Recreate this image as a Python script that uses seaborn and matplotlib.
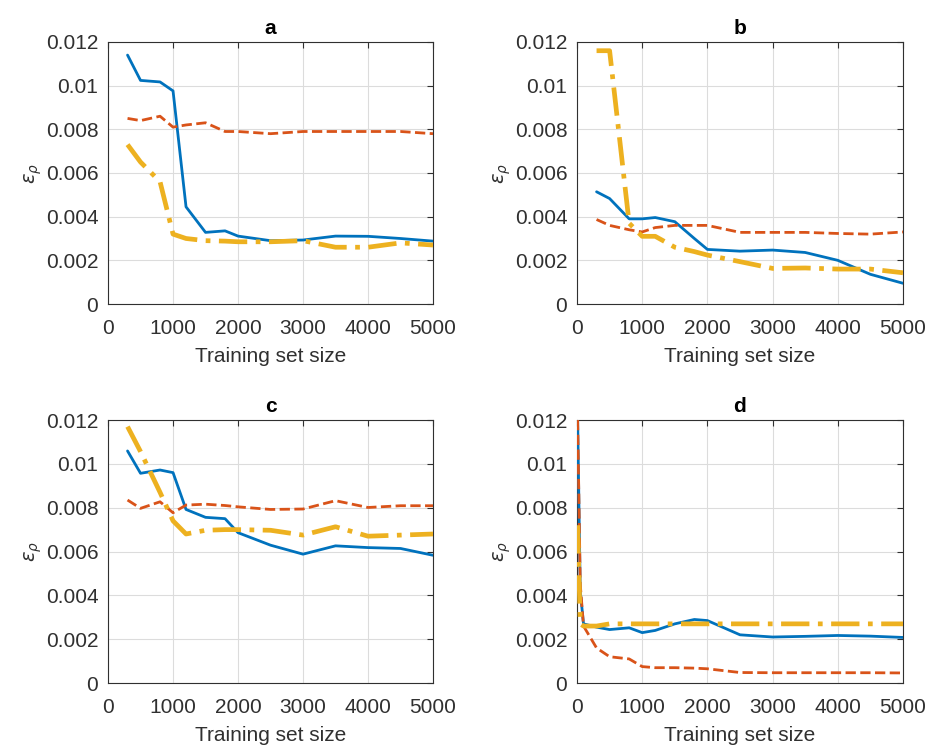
import matplotlib
matplotlib.use("Agg")
import matplotlib.pyplot as plt
import seaborn as sns
import pandas as pd

# ---------------- data ----------------
x_std = [300, 500, 800, 1000, 1200, 1500, 1800, 2000, 2500, 3000, 3500, 4000, 4500, 5000]

a_blue   = [0.0114, 0.01024, 0.01017, 0.00976, 0.00445, 0.00328, 0.00335, 0.00311, 0.0029, 0.00293, 0.00311, 0.0031, 0.0030, 0.00288]
a_orange = [0.0085, 0.0084, 0.0086, 0.0081, 0.0082, 0.0083, 0.0079, 0.0079, 0.0078, 0.0079, 0.0079, 0.0079, 0.0079, 0.0078]
a_yellow = [0.0073, 0.0065, 0.0056, 0.0032, 0.0030, 0.0029, 0.00288, 0.00285, 0.00285, 0.0029, 0.0026, 0.0026, 0.0028, 0.0027]

b_blue   = [0.00514, 0.00483, 0.0039, 0.0039, 0.00396, 0.00377, 0.0030, 0.0025, 0.00242, 0.00247, 0.00236, 0.0020, 0.00136, 0.00095]
b_orange = [0.00387, 0.0036, 0.0034, 0.0033, 0.0035, 0.0036, 0.0036, 0.0036, 0.00328, 0.00328, 0.00328, 0.00323, 0.0032, 0.0033]
b_yellow = [0.0116, 0.0116, 0.0037, 0.0031, 0.0031, 0.0026, 0.0024, 0.00224, 0.00194, 0.00163, 0.00165, 0.0016, 0.0016, 0.00143]

c_blue   = [0.01059, 0.00957, 0.00972, 0.0096, 0.00792, 0.00756, 0.0075, 0.00686, 0.00629, 0.00588, 0.00626, 0.00618, 0.00614, 0.00583]
c_orange = [0.00835, 0.00797, 0.00827, 0.00777, 0.00812, 0.00816, 0.0081, 0.00804, 0.00792, 0.00794, 0.00832, 0.00801, 0.00809, 0.00809]
c_yellow = [0.0117, 0.01056, 0.0087, 0.0074, 0.0068, 0.00697, 0.0070, 0.0070, 0.00697, 0.00675, 0.00713, 0.0067, 0.00675, 0.0068]

x_d = [10, 50, 100, 300, 500, 800, 1000, 1200, 1500, 1800, 2000, 2500, 3000, 3500, 4000, 4500, 5000]
d_blue   = [0.012, 0.0042, 0.0027, 0.00255, 0.00244, 0.00252, 0.0023, 0.0024, 0.0027, 0.0029, 0.00285, 0.0022, 0.0021, 0.00213, 0.00217, 0.00214, 0.00208]
d_orange = [0.012, 0.0045, 0.0026, 0.0016, 0.0012, 0.0011, 0.00075, 0.0007, 0.0007, 0.00068, 0.00065, 0.00048, 0.00047, 0.00047, 0.00047, 0.00047, 0.00046]
d_yellow = [0.0072, 0.0027, 0.0026, 0.0026, 0.0027, 0.0027, 0.0027, 0.0027, 0.0027, 0.0027, 0.0027, 0.0027, 0.0027, 0.0027, 0.0027, 0.0027, 0.0027]

panel_titles = ["a", "b", "c", "d"]
x_ticks = [0, 1000, 2000, 3000, 4000, 5000]
x_ticklabels = ["0", "1000", "2000", "3000", "4000", "5000"]
y_ticks = [0, 0.002, 0.004, 0.006, 0.008, 0.01, 0.012]
y_ticklabels = ["0", "0.002", "0.004", "0.006", "0.008", "0.01", "0.012"]

# ---------------- style ----------------
sns.set_theme(style="white")
plt.rcParams["font.family"] = ["Liberation Sans", "DejaVu Sans"]
plt.rcParams["mathtext.fontset"] = "dejavusans"

BLUE, ORANGE, YELLOW = "#0072BD", "#D95319", "#EDB120"
TXT = "#303030"

fig = plt.figure(figsize=(9.29, 7.51), dpi=100)
positions = [
    [0.1163, 0.5952, 0.3498, 0.3489],
    [0.6211, 0.5952, 0.3509, 0.3489],
    [0.1163, 0.0905, 0.3498, 0.3502],
    [0.6211, 0.0905, 0.3509, 0.3502],
]

panels = [
    (x_std, a_blue, a_orange, a_yellow),
    (x_std, b_blue, b_orange, b_yellow),
    (x_std, c_blue, c_orange, c_yellow),
    (x_d, d_blue, d_orange, d_yellow),
]

for pos, title, (xs, yb, yo, yy) in zip(positions, panel_titles, panels):
    ax = fig.add_axes(pos)
    df = pd.DataFrame({"x": xs, "blue": yb, "orange": yo, "yellow": yy})
    sns.lineplot(data=df, x="x", y="blue", ax=ax, color=BLUE, lw=2.0, sort=False, estimator=None, zorder=3)
    sns.lineplot(data=df, x="x", y="orange", ax=ax, color=ORANGE, lw=2.0, sort=False, estimator=None,
                 linestyle="--", zorder=4)
    sns.lineplot(data=df, x="x", y="yellow", ax=ax, color=YELLOW, lw=3.4, sort=False, estimator=None,
                 linestyle=(0, (6.0, 1.8, 1.0, 1.8)), zorder=5)
    ax.set_xlim(0, 5000)
    ax.set_ylim(0, 0.012)
    ax.set_xticks(x_ticks)
    ax.set_xticklabels(x_ticklabels)
    ax.set_yticks(y_ticks)
    ax.set_yticklabels(y_ticklabels)
    ax.grid(True, color="#dcdcdc", lw=0.8)
    ax.set_axisbelow(True)
    ax.tick_params(direction="in", length=4, width=0.8, colors=TXT, labelsize=15,
                   top=True, right=True, labeltop=False, labelright=False)
    ax.tick_params(axis="x", pad=11)
    ax.tick_params(axis="y", pad=7)
    for s in ax.spines.values():
        s.set_color(TXT)
        s.set_linewidth(0.8)
    ax.set_xlabel("Training set size", fontsize=15, color=TXT, labelpad=6)
    ax.set_ylabel(r"$\epsilon_\rho$", fontsize=14, color=TXT, labelpad=1)
    ax.set_title(title, fontsize=15, fontweight="bold", color="black", pad=6)

fig.savefig("out.png", dpi=100)
